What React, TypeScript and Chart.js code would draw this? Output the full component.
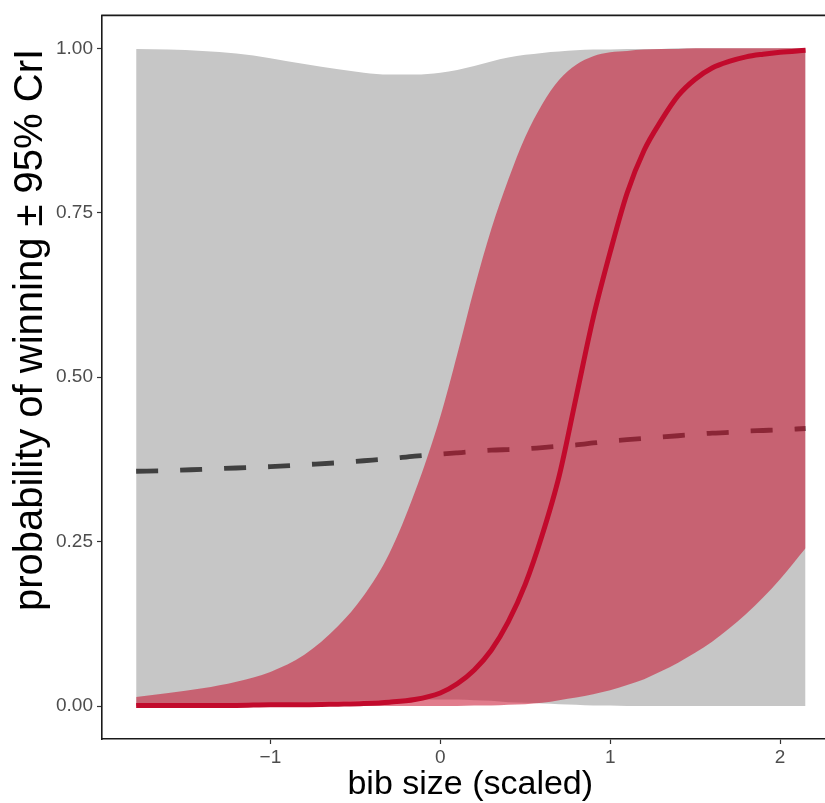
import React, { useEffect, useRef } from "react";
import { Chart, registerables } from "chart.js";

Chart.register(...registerables);

// bib size (scaled) grid shared by all series
const xGrid = [-1.79, -1.6, -1.4, -1.2, -1.0, -0.8, -0.6, -0.45, -0.3, -0.15, 0, 0.1, 0.2, 0.3, 0.4, 0.5, 0.6, 0.7, 0.8, 0.9, 1.0, 1.1, 1.2, 1.3, 1.4, 1.5, 1.6, 1.7, 1.8, 1.9, 2.0, 2.15];

// grey ribbon (95% CrI of dashed model)
const greyUpper = [0.999, 0.998, 0.996, 0.992, 0.985, 0.976, 0.968, 0.963, 0.960, 0.960, 0.963, 0.967, 0.973, 0.980, 0.986, 0.990, 0.993, 0.995, 0.997, 0.998, 0.998, 0.999, 0.999, 0.999, 1, 1, 1, 1, 1, 1, 1, 1];
const greyLower = [0.001, 0.002, 0.002, 0.003, 0.004, 0.006, 0.007, 0.008, 0.009, 0.010, 0.010, 0.010, 0.009, 0.008, 0.006, 0.005, 0.004, 0.003, 0.002, 0.001, 0.001, 0, 0, 0, 0, 0, 0, 0, 0, 0, 0, 0];

// dashed mean line
const dashedMean = [0.357, 0.358, 0.360, 0.362, 0.364, 0.367, 0.370, 0.373, 0.376, 0.380, 0.383, 0.385, 0.387, 0.389, 0.390, 0.391, 0.393, 0.395, 0.397, 0.400, 0.403, 0.405, 0.407, 0.409, 0.411, 0.413, 0.415, 0.416, 0.418, 0.419, 0.420, 0.422];

// red ribbon (95% CrI of red model)
const redUpper = [0.014, 0.020, 0.027, 0.037, 0.052, 0.078, 0.122, 0.168, 0.232, 0.325, 0.44, 0.535, 0.635, 0.725, 0.80, 0.865, 0.915, 0.952, 0.975, 0.988, 0.994, 0.996, 0.998, 0.999, 0.999, 1, 1, 1, 1, 1, 1, 1];
const redLower = [0, 0, 0, 0, 0, 0, 0, 0, 0, 0, 0, 0, 0.001, 0.001, 0.002, 0.003, 0.005, 0.009, 0.013, 0.018, 0.024, 0.032, 0.041, 0.053, 0.066, 0.081, 0.098, 0.118, 0.14, 0.165, 0.193, 0.24];

// red mean line
const redMean = [0.001, 0.001, 0.001, 0.001, 0.002, 0.002, 0.003, 0.004, 0.006, 0.010, 0.020, 0.034, 0.055, 0.085, 0.128, 0.185, 0.26, 0.35, 0.47, 0.59, 0.69, 0.78, 0.845, 0.89, 0.928, 0.953, 0.97, 0.98, 0.987, 0.991, 0.994, 0.997];

const xTicks = [-1, 0, 1, 2];
const yTicks = [0, 0.25, 0.5, 0.75, 1];

const yTitle = "probability of winning \u00b1 95% CrI";
const xTitle = "bib size (scaled)";

const FONT = "'Liberation Sans', Arial, Helvetica, sans-serif";

const decorations = {
  id: "decorations",
  afterDraw(chart: any) {
    const { ctx, chartArea } = chart;
    ctx.save();
    ctx.strokeStyle = "#1a1a1a";
    ctx.lineWidth = 1.6;
    ctx.beginPath();
    ctx.moveTo(chartArea.left - 0.8, chartArea.top);
    ctx.lineTo(chartArea.right, chartArea.top);
    ctx.stroke();
    // y axis title
    ctx.translate(31, 330);
    ctx.rotate(-Math.PI / 2);
    ctx.fillStyle = "#000000";
    ctx.font = `40px ${FONT}`;
    ctx.textAlign = "center";
    ctx.textBaseline = "middle";
    ctx.fillText(yTitle, 0, 0);
    ctx.restore();
  },
};

export default function App() {
  const ref = useRef<HTMLCanvasElement>(null);

  useEffect(() => {
    const pts = (ys: number[]) => xGrid.map((x, i) => ({ x, y: ys[i] }));
    const chart = new Chart(ref.current as HTMLCanvasElement, {
      type: "line",
      data: {
        datasets: [
          { data: pts(greyUpper), borderWidth: 0, backgroundColor: "#c6c6c6", fill: "+1", order: 5 },
          { data: pts(greyLower), borderWidth: 0, fill: false, order: 5 },
          {
            data: pts(dashedMean),
            borderColor: "#404040",
            borderWidth: 4.8,
            borderDash: [22, 22],
            borderCapStyle: "butt",
            fill: false,
            order: 3,
          },
          { data: pts(redUpper), borderWidth: 0, backgroundColor: "rgba(200,16,46,0.55)", fill: "+1", order: 2 },
          { data: pts(redLower), borderWidth: 0, fill: false, order: 2 },
          { data: pts(redMean), borderColor: "#c20a2c", borderWidth: 5, fill: false, order: 1 },
        ] as any,
      },
      options: {
        responsive: false,
        devicePixelRatio: 1,
        animation: false,
        layout: { padding: { top: 14, right: 1.5, left: 0, bottom: 0 } },
        elements: {
          point: { radius: 0 },
          line: { cubicInterpolationMode: "monotone" },
        },
        plugins: {
          legend: { display: false },
          tooltip: { enabled: false },
          filler: { drawTime: "beforeDatasetDraw", propagate: false },
        } as any,
        scales: {
          x: {
            type: "linear",
            min: -1.991,
            max: 2.344,
            afterBuildTicks: (s: any) => {
              s.ticks = xTicks.map((v) => ({ value: v }));
            },
            afterFit: (s: any) => {
              s.height = 64;
            },
            ticks: {
              autoSkip: false,
              maxRotation: 0,
              padding: 2,
              color: "#4d4d4d",
              font: { family: FONT, size: 19 },
              callback: (v: any) => String(v).replace("-", "\u2212"),
            },
            grid: { drawOnChartArea: false, drawTicks: true, tickLength: 5, tickColor: "#333333", tickWidth: 1.2 },
            border: { display: true, color: "#1a1a1a", width: 1.6 },
            title: {
              display: true,
              text: xTitle,
              color: "#000000",
              font: { family: FONT, size: 34, lineHeight: 1 },
              padding: { top: 0, bottom: 1 },
            },
          },
          y: {
            type: "linear",
            min: -0.05,
            max: 1.05,
            afterBuildTicks: (s: any) => {
              s.ticks = yTicks.map((v) => ({ value: v }));
            },
            afterFit: (s: any) => {
              s.width = 102;
            },
            ticks: {
              autoSkip: false,
              padding: 4,
              color: "#4d4d4d",
              font: { family: FONT, size: 19 },
              callback: (v: any) => Number(v).toFixed(2),
            },
            grid: { drawOnChartArea: false, drawTicks: true, tickLength: 5, tickColor: "#333333", tickWidth: 1.2 },
            border: { display: true, color: "#1a1a1a", width: 1.6 },
            title: { display: false },
          },
        },
      } as any,
      plugins: [decorations],
    });
    return () => chart.destroy();
  }, []);

  return (
    <div
      style={{
        position: "fixed",
        left: 0,
        top: 0,
        width: 825,
        height: 803,
        overflow: "hidden",
        background: "#ffffff",
      }}
    >
      <canvas ref={ref} width={840} height={803} style={{ display: "block", width: 840, height: 803 }} />
    </div>
  );
}
